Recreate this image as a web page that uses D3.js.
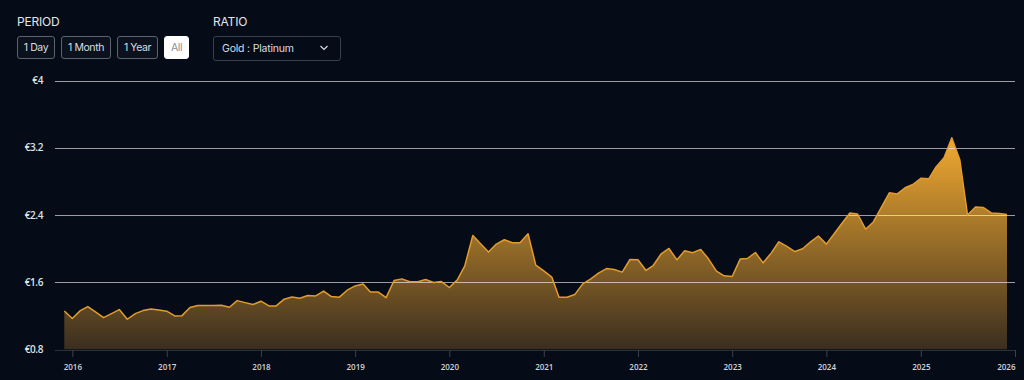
<!DOCTYPE html>
<html lang="en">
<head>
  <meta charset="UTF-8">
  <title>Gold : Platinum ratio</title>
  <script src="https://d3js.org/d3.v7.min.js"></script>
  <style>
    body { margin: 0; background: #050c18; font-family: Inter, "Noto Sans", sans-serif; color: #e6e8eb; overflow: hidden; }
    .label { position: absolute; top: 14px; font-size: 12px; letter-spacing: -0.2px; color: #e3e5e8; }
    .btn {
      position: absolute; top: 36px; height: 23px; box-sizing: border-box;
      border: 1px solid #5d636c; border-radius: 3px; background: #0b121e;
      font-size: 10.5px; letter-spacing: -0.4px; line-height: 21px; text-align: center; color: #d9dce0;
    }
    .btn.active { background: #ffffff; border-color: #ffffff; color: #8a8f96; }
    .select {
      position: absolute; top: 36px; left: 213px; width: 128px; height: 25px; box-sizing: border-box;
      border: 1px solid #3a404a; border-radius: 3px; background: #050c18;
      font-size: 10.5px; letter-spacing: -0.2px; line-height: 23px; padding-left: 8px; color: #d9dce0;
    }
    svg { position: absolute; left: 0; top: 0; }
    svg text { font-family: "Open Sans", sans-serif; }
  </style>
</head>
<body>
  <div class="label" style="left:17px">PERIOD</div>
  <div class="label" style="left:213px">RATIO</div>
  <div class="btn" style="left:17px;width:38px">1 Day</div>
  <div class="btn" style="left:61px;width:50px">1 Month</div>
  <div class="btn" style="left:117px;width:41px">1 Year</div>
  <div class="btn active" style="left:164px;width:25px">All</div>
  <div class="select">Gold : Platinum</div>

  <svg id="chart" width="1024" height="380"></svg>

  <script>
    // monthly Gold : Platinum ratio, Dec 2015 .. Dec 2025
    const startMonth = new Date(2015, 11, 1);
    const ratio = [
      1.257, 1.166, 1.261, 1.309, 1.242, 1.177, 1.225, 1.273, 1.158, 1.225,
      1.261, 1.281, 1.269, 1.254, 1.198, 1.201, 1.297, 1.321, 1.321, 1.321,
      1.325, 1.301, 1.380, 1.356, 1.333, 1.373, 1.317, 1.317, 1.397, 1.424,
      1.409, 1.440, 1.436, 1.493, 1.428, 1.421, 1.504, 1.555, 1.578, 1.482,
      1.482, 1.416, 1.619, 1.639, 1.604, 1.604, 1.631, 1.595, 1.607, 1.536,
      1.627, 1.795, 2.157, 2.057, 1.958, 2.054, 2.105, 2.069, 2.069, 2.177,
      1.803, 1.735, 1.660, 1.421, 1.421, 1.452, 1.580, 1.636, 1.707, 1.762,
      1.750, 1.719, 1.870, 1.866, 1.739, 1.798, 1.938, 2.001, 1.866, 1.974,
      1.950, 1.990, 1.878, 1.731, 1.675, 1.667, 1.875, 1.882, 1.953, 1.830,
      1.946, 2.081, 2.025, 1.965, 1.998, 2.081, 2.150, 2.053, 2.180, 2.298,
      2.424, 2.412, 2.231, 2.317, 2.491, 2.665, 2.649, 2.724, 2.763, 2.838,
      2.831, 2.973, 3.083, 3.320, 3.059, 2.400, 2.495, 2.488, 2.424, 2.417,
      2.405
    ];
    const yTicks = [0.8, 1.6, 2.4, 3.2, 4];
    const xTickYears = [2016, 2017, 2018, 2019, 2020, 2021, 2022, 2023, 2024, 2025, 2026];

    const data = ratio.map((v, i) => ({ date: d3.timeMonth.offset(startMonth, i), value: v }));

    const svg = d3.select("#chart");
    const left = 55, right = 1015;

    const x = d3.scaleTime()
      .domain([new Date(2016, 0, 1), new Date(2026, 0, 1)])
      .range([72.3, 1015]);
    const y = d3.scaleLinear()
      .domain([0.8, 4])
      .range([349.3, 80.7]);

    const defs = svg.append("defs");
    const grad = defs.append("linearGradient")
      .attr("id", "fillGrad")
      .attr("gradientUnits", "userSpaceOnUse")
      .attr("x1", 0).attr("x2", 0)
      .attr("y1", y(3.32)).attr("y2", y(0.8));
    grad.append("stop").attr("offset", "0%").attr("stop-color", "#f2aa31");
    grad.append("stop").attr("offset", "100%").attr("stop-color", "#3a2e1f");

    // area + line
    const area = d3.area()
      .x(d => x(d.date))
      .y0(y(0.8))
      .y1(d => y(d.value));
    const line = d3.line()
      .x(d => x(d.date))
      .y(d => y(d.value));

    svg.append("path")
      .datum(data)
      .attr("d", area)
      .attr("fill", "url(#fillGrad)");

    // gridlines (drawn over the fill)
    svg.append("g")
      .selectAll("line")
      .data(yTicks.filter(t => t > 0.8))
      .enter().append("line")
      .attr("x1", left).attr("x2", right)
      .attr("y1", d => Math.round(y(d)) + 0.5)
      .attr("y2", d => Math.round(y(d)) + 0.5)
      .attr("stroke", "#ffffff")
      .attr("stroke-opacity", 0.6)
      .attr("stroke-width", 1.1);

    svg.append("path")
      .datum(data)
      .attr("d", line)
      .attr("fill", "none")
      .attr("stroke", "#e39c2c")
      .attr("stroke-width", 1.5)
      .attr("stroke-linejoin", "round");

    // y labels
    svg.append("g")
      .selectAll("text")
      .data(yTicks)
      .enter().append("text")
      .attr("x", 43)
      .attr("y", d => y(d))
      .attr("dy", "0.35em")
      .attr("text-anchor", "end")
      .attr("font-size", 10)
      .attr("font-weight", 600)
      .attr("letter-spacing", -0.4)
      .attr("fill", "#dfe2e6")
      .text(d => "€" + d);

    // x axis
    const xAxis = svg.append("g")
      .attr("transform", "translate(0,350)")
      .call(d3.axisBottom(x)
        .tickValues(xTickYears.map(yr => new Date(yr, 0, 1)))
        .tickFormat(d3.timeFormat("%Y"))
        .tickSize(7)
        .tickPadding(7)
        .tickSizeOuter(0));
    xAxis.select(".domain")
      .attr("d", `M${left},0.5H${right}`)
      .attr("stroke", "#2b313b");
    xAxis.selectAll(".tick line").attr("stroke", "#3c424c");
    xAxis.selectAll(".tick text")
      .attr("font-size", 8)
      .attr("font-weight", 600)
      .attr("fill", "#d3d6da");
    // last label sits flush against the right edge
    xAxis.selectAll(".tick text")
      .filter(d => d.getFullYear() === 2026)
      .attr("text-anchor", "end");

    // dropdown chevron
    svg.append("path")
      .attr("d", "M320.5,46 L324,49.5 L327.5,46")
      .attr("fill", "none")
      .attr("stroke", "#d9dce0")
      .attr("stroke-width", 1.2);
  </script>
</body>
</html>
